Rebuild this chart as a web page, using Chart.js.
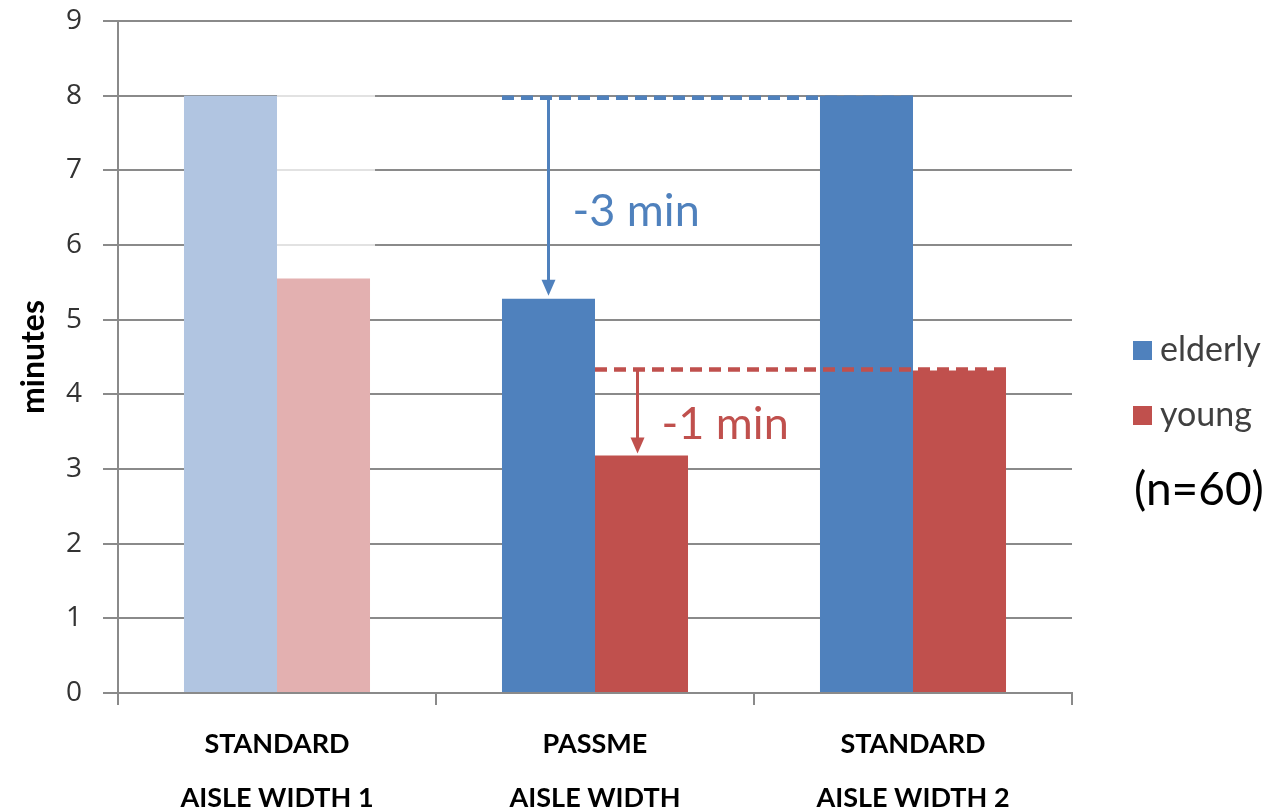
<!DOCTYPE html>
<html>
<head>
<meta charset="utf-8">
<script src="https://cdn.jsdelivr.net/npm/chart.js@4"></script>
<style>
  body { margin: 0; background: #fff; }
  canvas { display: block; }
</style>
</head>
<body>
<canvas id="walkChart" width="1283" height="812"></canvas>
<script>

// data
let categories = [["STANDARD", "AISLE WIDTH 1"], ["PASSME", "AISLE WIDTH"], ["STANDARD", "AISLE WIDTH 2"]];
let seriesNames = ["elderly", "young"];
let elderly = [8.0, 5.28, 8.0];
let young = [5.55, 3.18, 4.32];
let yMin = 0;
let yMax = 9;
let yStep = 1;
let drops = ["-3 min", "-1 min"];
let sampleNote = "(n=60)";

let blue = "#4F81BD";
let red = "#C0504D";
let paleBlue = "#B1C5E1";
let palePink = "#E3B0B0";
let gridGray = "#8A8A8A";


function arrowDown(ctx, x, y0, y1, color) {
    let head = 16;
    ctx.save();
    ctx.strokeStyle = color;
    ctx.fillStyle = color;
    ctx.lineWidth = 3;
    ctx.setLineDash([]);
    ctx.beginPath();
    ctx.moveTo(x, y0);
    ctx.lineTo(x, y1 - head + 2);
    ctx.stroke();
    ctx.beginPath();
    ctx.moveTo(x - 7, y1 - head);
    ctx.lineTo(x + 7, y1 - head);
    ctx.lineTo(x, y1);
    ctx.closePath();
    ctx.fill();
    ctx.restore();
}

function dashed(ctx, x0, x1, y, color) {
    ctx.save();
    ctx.strokeStyle = color;
    ctx.lineWidth = 4.5;
    ctx.setLineDash([12, 7]);
    ctx.beginPath();
    ctx.moveTo(x0, y);
    ctx.lineTo(x1, y);
    ctx.stroke();
    ctx.restore();
}


// fades the gridlines over the first (faded) group, like the white veil on the original
let veilPlugin = {
    id: "veil",
    beforeDatasetsDraw(chart) {
        let ctx = chart.ctx;
        let y = chart.scales.y;
        let bar = chart.getDatasetMeta(1).data[0];
        ctx.save();
        ctx.fillStyle = "rgba(255,255,255,0.75)";
        ctx.fillRect(bar.x - bar.width / 2, y.getPixelForValue(elderly[0]) - 2, bar.width + 5, bar.y - y.getPixelForValue(elderly[0]) + 2);
        ctx.restore();
    }
};


let notesPlugin = {
    id: "notes",
    afterDatasetsDraw(chart) {
        let ctx = chart.ctx;
        let y = chart.scales.y;
        let e = chart.getDatasetMeta(0).data;
        let g = chart.getDatasetMeta(1).data;

        // elderly: standard 2 -> passme
        let topE = y.getPixelForValue(elderly[2]) + 2;
        dashed(ctx, e[1].x - e[1].width / 2, e[2].x + e[2].width / 2 + 3, topE, blue);
        arrowDown(ctx, e[1].x, topE, e[1].y - 3, blue);

        // young: standard 2 -> passme
        let topY = y.getPixelForValue(young[2]) - 1;
        dashed(ctx, g[1].x - g[1].width / 2, g[2].x + g[2].width / 2 + 5, topY, red);
        arrowDown(ctx, g[1].x - 4, topY, g[1].y - 2, red);

        ctx.save();
        ctx.font = "45px Lato";
        ctx.textBaseline = "middle";
        ctx.textAlign = "left";
        ctx.fillStyle = blue;
        ctx.fillText(drops[0], e[1].x + 24, y.getPixelForValue(6.45));
        ctx.fillStyle = red;
        ctx.fillText(drops[1], g[1].x + 20, y.getPixelForValue(3.6));
        ctx.restore();
    },

    afterDraw(chart) {
        let ctx = chart.ctx;
        let area = chart.chartArea;
        let x = area.right + 61;
        let colors = [blue, red];
        let ys = [350, 415];

        ctx.save();
        ctx.textBaseline = "middle";
        ctx.textAlign = "left";
        for (let i = 0; i < seriesNames.length; i++) {
            ctx.fillStyle = colors[i];
            ctx.fillRect(x, ys[i] - 9, 19, 19);
            ctx.fillStyle = "#404040";
            ctx.font = "34px Lato";
            ctx.fillText(seriesNames[i], x + 27, ys[i]);
        }
        ctx.fillStyle = "#000";
        ctx.font = "46px Lato";
        ctx.fillText(sampleNote, x + 1, 490);
        ctx.restore();
    }
};


let ctx1 = document.getElementById("walkChart").getContext("2d");

window.walkChartInstance = new Chart(ctx1, {
    type: "bar",
    data: {
        labels: categories,
        datasets: [
            {
                label: seriesNames[0],
                data: elderly,
                backgroundColor: [paleBlue, blue, blue],
                borderWidth: 0
            },
            {
                label: seriesNames[1],
                data: young,
                backgroundColor: [palePink, red, red],
                borderWidth: 0
            }
        ]
    },
    options: {
        responsive: false,
        animation: false,
        layout: {
            padding: { left: 0, right: 211, top: 21, bottom: 0 }
        },
        datasets: {
            bar: {
                categoryPercentage: 0.585,
                barPercentage: 1
            }
        },
        plugins: {
            legend: { display: false },
            tooltip: { enabled: false }
        },
        scales: {
            x: {
                grid: {
                    offset: true,
                    drawOnChartArea: false,
                    color: gridGray,
                    lineWidth: 2,
                    tickLength: 12
                },
                border: { color: gridGray, width: 2 },
                ticks: {
                    color: "#000",
                    padding: 12,
                    maxRotation: 0,
                    font: { family: "Lato", size: 27, weight: "bold", lineHeight: 2.0 }
                },
                afterFit(scale) { scale.height = 119; }
            },
            y: {
                min: yMin,
                max: yMax,
                ticks: {
                    stepSize: yStep,
                    color: "#333",
                    padding: 21,
                    font: { family: "Open Sans", size: 28, weight: "500" }
                },
                grid: {
                    color: gridGray,
                    lineWidth: 2,
                    tickLength: 15
                },
                border: { color: gridGray, width: 2 },
                title: {
                    display: true,
                    text: "minutes",
                    color: "#000",
                    padding: { top: 14, bottom: 0 },
                    font: { family: "Lato", size: 32, weight: "bold" }
                },
                afterFit(scale) {
                    scale.width = 118;
                    scale.paddingTop = 0;
                    scale.paddingBottom = 0;
                }
            }
        }
    },
    plugins: [veilPlugin, notesPlugin]
});

</script>
</body>
</html>
